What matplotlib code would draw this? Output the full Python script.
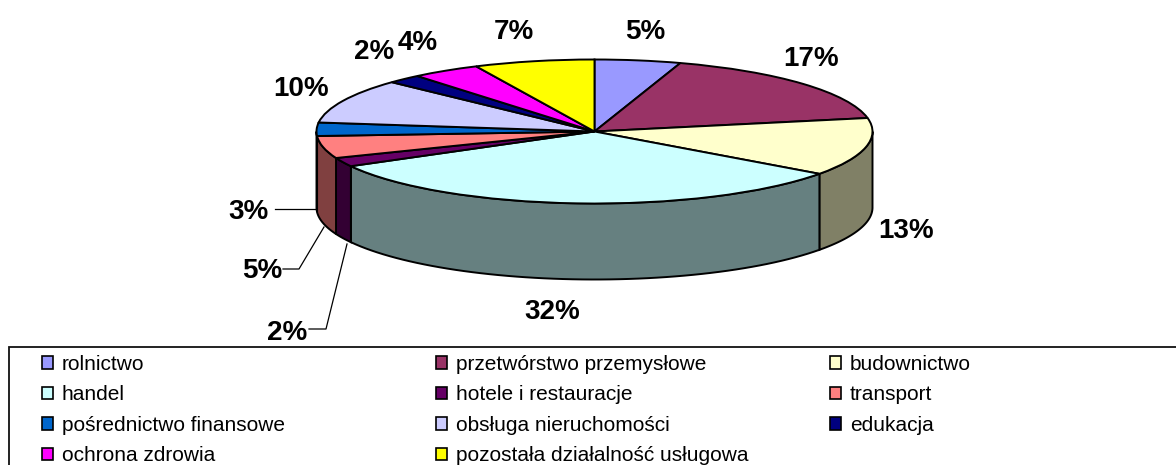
import numpy as np
import matplotlib
matplotlib.use("Agg")
import matplotlib.pyplot as plt
from matplotlib.colors import to_rgb
from matplotlib.patches import Patch, Rectangle
from matplotlib.lines import Line2D

categories = ["rolnictwo", "przetwórstwo przemysłowe", "budownictwo", "handel",
              "hotele i restauracje", "transport", "pośrednictwo finansowe",
              "obsługa nieruchomości", "edukacja", "ochrona zdrowia",
              "pozostała działalność usługowa"]
values = [5, 17, 13, 32, 2, 5, 3, 10, 2, 4, 7]
colors = ["#9999FF", "#993366", "#FFFFCC", "#CCFFFF", "#660066", "#FF8080",
          "#0066CC", "#CCCCFF", "#000080", "#FF00FF", "#FFFF00"]

W, H = 1176, 465
CX, CY, RX, RY, DEPTH = 594.5, 131.5, 278, 72, 76
FONT = "Liberation Sans"
LW = 1.4

fig = plt.figure(figsize=(W / 100, H / 100), dpi=100, facecolor="white")
ax = fig.add_axes([0, 0, 1, 1])


def px(x, y):
    return x / W, 1 - y / H


# top face
ax.pie(values, colors=colors, startangle=90, counterclock=False, radius=1,
       wedgeprops=dict(edgecolor="black", linewidth=LW))
ax.set_aspect("auto")
ax.set_xlim(-CX / RX, (W - CX) / RX)
ax.set_ylim((CY - H) / RY, CY / RY)
ax.axis("off")

# side wall, visible front half only
d = DEPTH / RY
edges = np.cumsum([0] + values) / sum(values) * 360
for a0, a1, c in zip(edges[:-1], edges[1:], colors):
    lo, hi = max(a0, 90), min(a1, 270)
    if hi <= lo:
        continue
    t = np.radians(np.linspace(lo, hi, 60))
    xs = np.sin(t)
    ys = np.cos(t)
    dark = tuple(v * 0.5 for v in to_rgb(c))
    ax.fill(np.r_[xs, xs[::-1]], np.r_[ys, ys[::-1] - d], facecolor=dark,
            edgecolor="black", linewidth=LW, zorder=0.5)

# percentage labels
label_texts = [f"{v}%" for v in values]
label_pos = [(645, 32), (811, 59), (906, 231), (552, 312), (287, 333), (262, 271),
             (248, 212), (301, 89), (374, 52), (418, 43), (514, 32)]
for s, (x, y) in zip(label_texts, label_pos):
    fig.text(*px(x, y), s, ha="center", va="center", fontsize=20,
             fontweight="bold", family=FONT, color="black")

# leader lines
for pts in ([(275, 209.5), (315, 209.5)],
            [(283, 269), (299, 269), (324, 227)],
            [(309, 329), (326, 329), (347, 244)]):
    pp = [px(*p) for p in pts]
    fig.add_artist(Line2D([p[0] for p in pp], [p[1] for p in pp],
                          color="black", linewidth=0.9))

# legend frame running off the canvas
x0, y0 = px(8.5, H + 10)
x1, y1 = px(W + 10, 346.5)
fig.add_artist(Rectangle((x0, y0), x1 - x0, y1 - y0, transform=fig.transFigure,
                         facecolor="none", edgecolor="#111111", linewidth=1.3))

# legend columns
col_x = [42, 436, 830]
for col in range(3):
    idx = range(col, len(categories), 3)
    handles = [Patch(facecolor=colors[i], edgecolor="black", linewidth=1.2) for i in idx]
    leg = fig.legend(handles, [categories[i] for i in idx],
                     loc="upper left", bbox_to_anchor=px(col_x[col], 355),
                     frameon=False, borderpad=0, borderaxespad=0,
                     handlelength=0.55, handleheight=0.55, handletextpad=0.4,
                     labelspacing=0.55,
                     prop=dict(family=FONT, size=15))

fig.savefig("out.png", dpi=100, facecolor="white")
